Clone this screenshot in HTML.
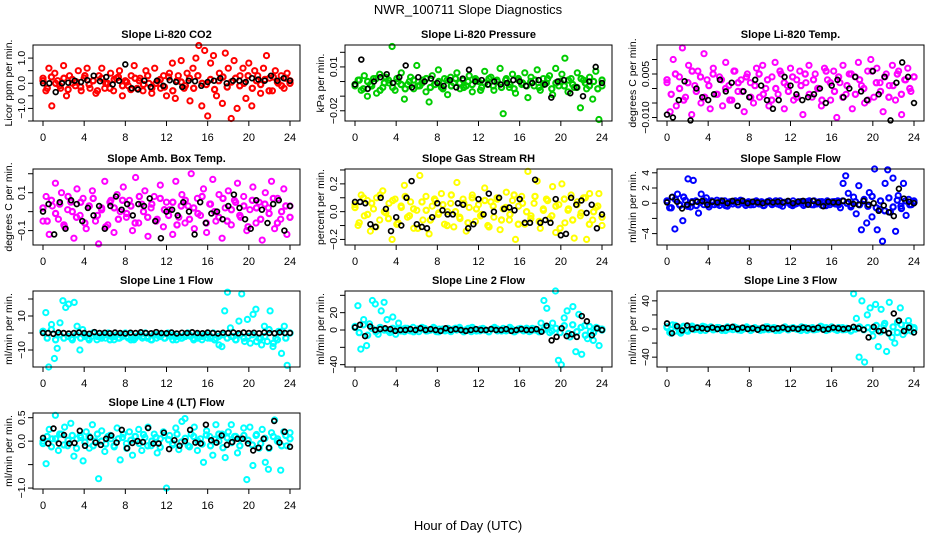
<!DOCTYPE html>
<html><head><meta charset="utf-8"><style>
html,body{margin:0;padding:0;background:#fff;}
svg{display:block;font-family:"Liberation Sans",sans-serif;}
</style></head><body>
<svg id="chart" width="936" height="540" viewBox="0 0 936 540" xmlns="http://www.w3.org/2000/svg">
<rect width="936" height="540" fill="#fff"/>
<text x="468" y="14" text-anchor="middle" font-size="13">NWR_100711  Slope Diagnostics</text>
<text x="468" y="530" text-anchor="middle" font-size="13">Hour of Day (UTC)</text>
</svg>
<script>
const xTicks = [0,4,8,12,16,20,24];
const titles = ["Slope Li-820 CO2","Slope Li-820 Pressure","Slope Li-820 Temp.","Slope Amb. Box Temp.","Slope Gas Stream RH","Slope Sample Flow","Slope Line 1 Flow","Slope Line 2 Flow","Slope Line 3 Flow","Slope Line 4 (LT) Flow"];
const yTitles = ["Licor ppm per min.","kPa per min.","degrees C per min.","degrees C per min.","percent per min.","ml/min per min.","ml/min per min.","ml/min per min.","ml/min per min.","ml/min per min."];
const yTickVals = [[-1.5,-1,-0.5,0,0.5,1],[-0.02,-0.01,0,0.01,0.02],[-0.01,-0.005,0,0.005,0.01],[-0.1,0,0.1,0.2],[-0.2,-0.1,0,0.1,0.2,0.3],[-4,-2,0,2,4],[-10,0,10,20],[-40,-20,0,20,40],[-40,-20,0,20,40],[-1,-0.5,0,0.5]];
const yTickLabels = [["","−1.0","","0.0","","1.0"],["−0.02","","","0.01",""],["−0.010","","","0.005",""],["−0.1","","0.1",""],["−0.2","","0.0","","0.2",""],["−4","","0","2","4"],["−10","","10",""],["−40","","0","20",""],["−40","","0","","40"],["−1.0","","0.0","0.5"]];
const colors = ["#ff0000","#00cd00","#ff00ff","#ff00ff","#ffff00","#0000ff","#00ffff","#00ffff","#00ffff","#00ffff"];

const co2Color = [0.2,-0.3,0.6,-0.9,0.4,0.1,-0.2,0.7,-0.5,0.3,0.0,-0.1,0.5,-0.3,0.2,0.6,-0.2,0.1,-0.4,0.3,0.6,-0.2,0.0,0.4,-0.3,0.2,0.5,-0.5,0.1,-0.1,0.3,0.7,-0.2,0.2,-0.3,0.5,0.0,-0.4,0.6,0.1,-0.2,0.3,-0.5,0.4,0.8,-0.6,0.3,0.9,-0.2,0.4,-0.7,0.6,1.0,1.5,-0.9,1.3,-1.3,0.8,1.1,-0.5,0.4,-0.8,1.2,0.6,-1.4,0.9,-1.0,0.3,0.6,-0.6,0.8,-0.9,0.5,0.3,-0.4,0.6,1.1,0.2,-0.3,0.5,0.0,0.3,-0.2,0.4,0.1];
const co2Core = [0.1,-0.2,0.25,0.0,-0.1,0.2,-0.25,0.15,0.05,-0.15,0.3,-0.05,0.1,-0.3,0.2,0.0,-0.2,0.15,0.25,-0.1,0.05,-0.25,0.2,0.1,-0.05,0.3,-0.2,0.0,0.15,-0.15,0.25,-0.3,0.1,0.05,-0.1,0.2,-0.2,0.3,0.0,-0.05,0.15,-0.25,0.1,0.25,-0.15,0.05,0.2,-0.1,0.0,0.3,-0.2,0.1,-0.05,0.15,-0.3,0.25,0.05,-0.1,0.2,0.0];
const co2Black = [0,0.0,-0.35,0.0,0.02,0.1,0.05,0.12,0.3,0.08,0.25,-0.05,0.1,0.75,-0.2,-0.25,0.1,-0.15,0.1,-0.1,0.12,0.05,-0.15,0.1,0.08,-0.1,0.05,0.1,0.2,0.0,0.1,0.1,0.05,0.2,0.15,0.1,0.3,0.1,0.2,0.1];
const presColor = [-0.003,0.001,-0.006,0.004,-0.010,-0.002,0.002,-0.008,0.005,-0.004,0.003,-0.001,0.024,-0.006,0.000,0.006,-0.012,-0.002,0.003,-0.005,0.011,-0.003,0.001,-0.007,-0.014,0.004,-0.002,0.008,-0.004,0.002,-0.009,0.003,-0.001,0.006,-0.005,0.001,-0.003,0.004,-0.007,0.002,0.000,-0.004,0.007,-0.002,0.003,-0.006,0.001,0.009,-0.022,0.002,-0.004,0.005,-0.008,0.001,-0.002,0.006,-0.011,0.003,-0.003,0.008,-0.006,0.002,-0.001,0.004,-0.009,0.009,-0.003,0.005,0.016,-0.007,0.002,-0.004,0.006,-0.018,0.001,-0.005,0.003,-0.012,0.007,-0.026,-0.003];
const presCore = [-0.002,0.001,-0.005,0.000,-0.003,0.002,-0.006,-0.001,0.001,-0.004,0.002,-0.002,-0.005,0.000,0.001,-0.003,-0.001,0.002,-0.004,-0.002,0.000,-0.005,0.001,-0.003,0.002,-0.001,-0.004,0.000,-0.002,0.001,-0.006,-0.001,0.002,-0.003,0.000,-0.004,0.001,-0.002,-0.005,0.002,-0.001,-0.003,0.000,0.001,-0.004,-0.002,0.002,-0.005,-0.001,0.000,-0.003,0.001,-0.002,-0.004,0.002,-0.001,-0.003,0.000,-0.005,0.001];
const presBlack = [-0.002,0.015,-0.005,0.0,0.003,0.005,-0.001,0.003,0.011,-0.004,0.003,0.0,0.002,-0.001,-0.003,0.001,-0.004,0.002,0.008,0.0,0.001,-0.002,0.0,-0.002,-0.001,0.001,0.0,-0.003,-0.001,0.001,-0.002,-0.011,0.0,0.001,-0.008,-0.004,-0.010,0.0,0.010,-0.001];
const tempColor = [0.002,-0.008,0.010,-0.006,0.004,0.014,-0.003,0.008,-0.009,0.001,0.006,-0.005,0.012,0.003,-0.007,0.007,-0.002,0.004,-0.006,0.009,0.001,-0.004,0.006,-0.001,0.003,-0.008,0.005,0.002,-0.005,0.007,-0.003,0.008,0.000,-0.006,0.004,0.009,-0.002,0.005,-0.007,0.001,0.007,-0.004,0.003,0.006,-0.009,0.002,0.008,-0.003,0.005,0.000,-0.006,0.007,0.003,-0.004,0.006,-0.010,0.002,0.008,-0.002,0.005,-0.007,0.004,0.009,0.001,-0.005,0.006,0.010,-0.003,0.007,0.002,-0.008,0.005,0.001,0.008,-0.004,0.006,-0.009,0.003,0.007,-0.001,0.004];
const tempCore = [0.003,-0.002,0.005,0.000,-0.004,0.002,0.006,-0.001,0.004,-0.003,0.001,0.005,-0.002,0.003,0.000,-0.004,0.006,0.002,-0.001,0.004,-0.003,0.001,0.005,-0.002,0.003,-0.004,0.000,0.006,0.002,-0.001,0.004,-0.003,0.001,0.005,-0.002,0.003,0.000,-0.004,0.006,0.002,-0.001,0.004,-0.003,0.001,0.005,-0.002,0.003,0.000,-0.004,0.006,0.002,-0.001,0.004,-0.003,0.001,0.005,-0.002,0.003,0.000,0.004];
const tempBlack = [-0.009,-0.010,-0.004,0.0025,-0.011,0.000,-0.003,-0.004,-0.002,0.003,-0.001,0.002,-0.006,-0.001,-0.003,0.003,0.001,-0.004,-0.007,-0.004,0.004,0.001,-0.002,-0.004,-0.003,-0.002,0.000,-0.005,0.001,0.003,-0.003,0.000,0.004,-0.001,-0.004,0.006,-0.002,0.004,-0.011,0.002,0.009,0.004,-0.005];
const ambColor = [-0.05,0.08,-0.12,0.03,0.15,-0.04,0.10,-0.08,0.01,0.05,-0.14,0.12,-0.02,0.07,-0.09,0.03,0.11,-0.05,-0.17,0.02,0.16,-0.07,0.06,-0.11,0.09,0.00,0.13,-0.03,0.06,-0.10,0.18,-0.06,0.04,0.11,-0.13,0.02,0.08,-0.04,0.14,-0.08,0.05,0.01,-0.12,0.16,-0.03,0.09,-0.06,0.03,0.20,-0.09,0.07,-0.02,0.12,-0.11,0.04,0.17,-0.05,0.09,-0.14,0.02,0.11,-0.07,0.06,0.15,-0.03,0.08,-0.10,0.01,0.13,-0.06,0.05,-0.15,0.10,0.02,0.16,-0.09,0.07,-0.04,0.12,-0.12,0.03];
const ambCore = [0.02,-0.05,0.06,-0.01,0.04,-0.07,0.08,0.00,-0.03,0.05,-0.06,0.03,0.07,-0.02,0.01,-0.08,0.05,0.02,-0.04,0.06,-0.01,0.03,-0.06,0.08,0.00,-0.03,0.04,-0.05,0.07,0.01,-0.02,0.05,-0.07,0.03,0.06,-0.04,0.02,-0.01,0.08,-0.06,0.04,0.00,-0.03,0.07,-0.05,0.01,0.05,-0.02,0.03,-0.08,0.06,0.02,-0.04,0.04,-0.01,0.07,-0.06,0.00,0.03,-0.03];
const ambBlack = [0.00,0.04,-0.12,0.05,-0.09,0.06,0.04,-0.05,0.02,-0.02,0.03,-0.09,0.03,0.08,0.01,0.04,-0.02,0.04,0.03,0.07,-0.05,-0.14,0.0,0.01,-0.02,0.05,0.00,-0.12,0.05,-0.06,-0.01,0.00,-0.04,0.03,0.09,0.02,-0.04,-0.09,0.06,0.01,-0.06,0.04,0.06,-0.10,0.03];
const rhColor = [0.05,-0.10,0.12,-0.03,0.08,-0.14,0.02,0.10,-0.06,0.15,-0.01,0.06,-0.20,0.09,-0.08,0.03,0.19,-0.04,0.07,-0.12,0.01,0.26,-0.06,0.11,-0.16,0.04,0.08,-0.02,0.13,-0.09,0.00,0.06,-0.11,0.21,-0.05,0.09,-0.14,0.03,0.12,-0.07,0.05,-0.02,0.17,-0.10,0.07,-0.04,0.10,-0.13,0.02,0.14,-0.06,0.08,-0.20,0.04,0.11,-0.09,0.29,-0.03,0.06,0.22,-0.12,0.02,0.09,-0.05,0.18,-0.15,0.05,0.20,-0.08,0.01,0.12,-0.19,0.07,-0.03,0.10,-0.20,0.13,-0.06,0.03,0.13,-0.10];
const rhCore = [0.03,-0.08,0.10,-0.02,0.06,-0.11,0.12,0.00,-0.05,0.08,-0.09,0.04,0.11,-0.03,0.02,-0.12,0.07,0.01,-0.06,0.09,-0.01,0.05,-0.10,0.12,0.00,-0.04,0.06,-0.08,0.10,0.02,-0.03,0.08,-0.11,0.04,0.09,-0.06,0.03,-0.02,0.12,-0.09,0.06,0.00,-0.05,0.11,-0.07,0.01,0.08,-0.03,0.04,-0.12,0.09,0.02,-0.06,0.05,-0.01,0.10,-0.09,0.00,0.04,-0.04];
const rhBlack = [0.07,0.07,0.06,-0.09,-0.11,0.10,0.02,-0.14,-0.04,-0.10,0.10,0.22,-0.09,-0.11,-0.12,-0.04,0.06,0.01,-0.02,-0.02,0.06,0.05,-0.12,-0.09,0.09,-0.02,0.13,0.00,0.10,0.02,0.03,0.01,0.09,-0.08,-0.08,0.23,-0.08,-0.06,-0.08,0.09,-0.17,-0.16,0.10,0.05,0.08,-0.01,0.05,-0.12,-0.02];
const sampleColor = [0.2,-0.6,0.8,-3.4,1.2,-0.3,-2.3,0.4,3.2,-0.5,3.0,0.3,-1.3,1.2,-0.2,0.7,-0.5,0.3,-0.2,0.4,-0.3,0.1,0.3,-0.4,0.2,-0.1,0.3,-0.2,0.4,0.0,-0.3,0.2,0.1,-0.2,0.3,-0.1,0.2,-0.3,0.1,0.3,-0.2,0.2,-0.1,0.3,-0.4,0.1,0.2,-0.2,0.3,-0.1,0.2,0.0,-0.3,0.2,0.1,-0.2,0.3,-0.1,0.2,-0.3,0.1,0.3,-0.2,0.2,-0.1,0.3,-0.6,2.6,3.6,1.3,-0.5,0.8,-1.4,2.3,-3.5,0.5,-2.6,1.4,-1.8,4.5,-3.5,-0.8,-5.0,2.6,4.4,-1.2,3.3,-3.7,1.0,-0.4,2.6,-1.6,0.5,-0.2,0.3];
const sampleCore = [0.3,-0.6,0.5,-0.2,0.8,-0.4,0.2,-0.3,0.1,0.3,-0.2,0.2,-0.1,0.3,-0.3,0.1,0.2,-0.2,0.3,0.0,-0.2,0.2,0.1,-0.3,0.2,-0.1,0.3,-0.2,0.1,0.2,-0.3,0.0,0.2,-0.1,0.3,-0.2,0.1,0.2,-0.3,0.1,0.2,-0.2,0.3,0.0,-0.3,0.2,-0.2,0.3,-0.4,0.9,-0.6,0.3,-1.0,0.7,-0.5,0.4,-0.7,0.3,-0.2,0.1];
const sampleBlack = [0.1,0.8,0.2,-0.7,-0.2,0.1,0.2,0.3,-0.2,0.2,0.1,0.3,0.0,0.3,0.1,0.3,0.0,0.2,0.1,0.0,0.2,0.1,0.2,0.1,0.3,0.0,0.2,0.3,-0.2,0.3,0.1,-0.4,0.2,0.1,0.1,0.3,0.2,-0.1,-0.2,0.3,-0.2,0.0,-1.0,-0.3,-1.2,-1.7,1.9,0.6,0.2,0.0];
const line1Color = [1,12,-20,5,-15,-9,6,19,15,17,-3,18,4,-10,2,-1,-3,-2,0,-4,-2,-1,-3,0,-2,-4,-1,-3,-2,0,-3,-1,-4,-2,-1,-3,0,-2,-4,-1,-3,-2,-1,-3,0,-2,-1,-4,-2,-3,-1,0,-2,-3,-1,-2,-4,-1,-3,-2,0,-3,-7,-8,13,24,3,-2,-4,7,23,-5,8,-6,11,14,-3,-7,4,-5,13,-8,-3,1,-12,4,-19,0];
const line1Core = [1,-3,2,-4,-1,-3,-2,-4,-1,-3,-2,-4,0,-2,-3,-1,-4,-2,-3,-1,-2,-4,-3,-1,-2,-3,-4,-1,-2,-3,-1,-4,-2,-3,-2,-1,-4,-3,-2,-1,-3,-4,-2,-1,-3,-2,-4,-1,-3,-2,-1,-5,-3,-2,2,-6,-4,1,-3,0];
const line1Black = [0,0,-0.5,0.3,0,-0.3,0,0.3,0,-0.4,0.5,0,0.2,-0.2,0.3,0,-0.3,0.2,0,0.4,0,-0.2,0.5,0,-0.2,0.3,-0.3,0.2,0,0.4,0,-0.2,0.3,0,-0.3,0.2,0,0.3,-0.2,0.3,0,0.2,-0.2,0.3,0,-0.2,0.3,0,0];
const line2Color = [3,28,-22,12,-18,7,34,30,-5,22,32,12,-3,15,-5,8,1,-2,2,-1,3,0,-2,1,2,-1,0,3,-2,1,0,-1,2,-2,1,0,3,-1,0,2,-2,1,0,-1,2,0,-2,1,3,-1,0,2,-1,0,1,-2,0,2,-1,1,-2,2,0,-1,8,34,25,-3,8,45,-35,-40,14,22,-8,27,-25,18,-28,5,-10,-2,-12,3,-18,1];
const line2Core = [4,-3,6,-6,2,-2,3,0,-1,2,1,-1,2,0,-2,1,3,-1,0,2,-2,1,0,-1,2,1,-2,0,3,-1,1,0,-2,2,1,-1,0,3,-2,1,0,2,-1,1,-2,0,3,-1,2,-3,5,-4,6,-2,3,-6,4,-3,2,0];
const line2Black = [3,6,-7,4,0,1,2,1,-1,0,0,1,0,2,0,1,0,-1,2,0,1,0,-1,0,1,0,0,1,0,0,1,-1,0,1,0,0,1,-2,5,-12,-8,2,-7,-5,-8,16,10,-6,2,0];
const line3Color = [2,-5,6,-3,1,-6,4,-2,3,1,-1,2,0,4,-2,1,3,-1,0,2,-2,1,3,0,-1,2,1,-2,0,3,1,-1,2,0,-2,1,3,-1,0,2,1,-2,0,3,-1,1,2,0,-1,3,1,-2,0,2,-1,1,4,0,2,-1,3,0,-2,1,2,-1,0,-3,50,15,-40,40,-47,20,30,-10,35,-25,28,5,-32,38,-12,-20,10,30,-8,5,12,-3,2];
const line3Core = [3,-6,5,-4,2,-3,4,0,-2,3,1,-1,2,0,-2,1,3,-1,0,2,-2,1,0,-1,3,1,-2,0,2,-1,1,0,-2,2,1,-1,0,3,-2,1,0,2,-1,1,-2,0,3,-1,2,-1,5,-4,8,-6,3,-5,6,-3,4,0];
const line3Black = [8,-6,4,-2,5,0,2,1,0,2,0,1,2,3,0,2,0,1,-1,2,1,0,1,2,0,1,0,2,1,0,2,-1,0,2,1,0,1,3,1,-1,-12,3,-3,-2,-6,22,12,-3,2,-5];
const line4Color = [0.0,-0.48,0.25,0.05,0.55,-0.2,0.15,0.30,-0.1,0.38,-0.32,0.05,0.12,-0.42,0.2,-0.15,0.35,0.0,-0.8,0.22,-0.22,0.1,0.05,-0.1,0.28,-0.4,0.15,-0.05,0.2,-0.3,0.1,0.25,-0.2,0.08,0.3,-0.1,0.15,-0.25,0.05,0.2,-1.0,0.12,-0.05,0.28,-0.18,0.42,0.48,-0.1,0.15,0.3,-0.2,0.05,-0.45,0.22,0.1,-0.3,0.35,0.0,0.15,-0.35,0.2,0.35,0.1,-0.25,0.05,0.28,-0.82,0.3,-0.52,0.12,-0.15,0.25,-0.45,-0.6,0.18,0.45,0.05,-0.62,0.2,-0.1,0.18];
const line4Core = [-0.05,0.1,-0.12,0.05,0.15,-0.08,0.02,0.12,-0.15,0.08,-0.02,0.1,-0.1,0.15,0.0,-0.06,0.12,-0.12,0.05,0.08,-0.15,0.02,0.1,-0.05,0.14,-0.1,0.0,0.08,-0.13,0.12,0.03,-0.08,0.15,-0.02,0.06,-0.12,0.1,0.0,-0.06,0.13,-0.1,0.04,0.15,-0.14,0.07,-0.03,0.1,-0.1,0.12,0.02,-0.08,0.14,-0.05,0.06,-0.15,0.1,0.0,-0.1,0.12,0.05];
const line4Black = [0.07,-0.05,0.27,-0.05,0.13,-0.05,-0.04,0.22,-0.1,0.08,-0.03,-0.08,0.05,0.12,-0.03,0.24,-0.15,-0.04,0.0,-0.02,0.28,-0.05,-0.05,0.18,-0.17,0.02,-0.1,0.0,0.24,-0.03,-0.05,0.35,0.02,-0.03,0.12,-0.08,-0.02,0.05,0.05,-0.05,-0.2,-0.14,0.05,-0.14,0.43,-0.03,0.2,-0.12];

const colorSeries = [co2Color,presColor,tempColor,ambColor,rhColor,sampleColor,line1Color,line2Color,line3Color,line4Color];
const coreSeries = [co2Core,presCore,tempCore,ambCore,rhCore,sampleCore,line1Core,line2Core,line3Core,line4Core];
const blackSeries = [co2Black,presBlack,tempBlack,ambBlack,rhBlack,sampleBlack,line1Black,line2Black,line3Black,line4Black];
const yDomains = [[-1.5,1.52],[-0.027,0.025],[-0.0112,0.015],[-0.176,0.225],[-0.24,0.307],[-5.5,4.5],[-20,24.7],[-42.7,45],[-54,54],[-1.02,0.6]];

const NS = "http://www.w3.org/2000/svg";
const svg = document.getElementById('chart');
const colLeft = [33,345,657], rowTop = [45,169,291,413], boxW = 267, boxH = 76;
function mk(tag, attrs, parent){ const e=document.createElementNS(NS,tag); for(const k in attrs) e.setAttribute(k,attrs[k]); parent.appendChild(e); return e; }

for (let p=0;p<10;p++){
  const L = colLeft[p%3], T = rowTop[Math.floor(p/3)], R = L+boxW, B = T+boxH;
  const g = mk('g',{},svg);
  
  
  const xS = h => L+10 + h*(boxW-20)/24;
  const [d0,d1] = yDomains[p];
  const yS = v => B - (v-d0)/(d1-d0)*boxH;
  const drawPts = (arr, col, name, sw, r) => {
    const pg = mk('g',{fill:'none',stroke:col,'stroke-width':sw},g);
    
    
    arr.forEach((v,i)=>{
      const h = i*24/(arr.length-1);
      const c = mk('circle',{cx:xS(h).toFixed(1),cy:yS(v).toFixed(1),r:r},pg);
      
      
    });
  };
  drawPts(colorSeries[p], colors[p], 'series-points', 2.0, 2.6);
  drawPts(coreSeries[p], colors[p], 'series-core-points', 2.2, 2.6);
  drawPts(blackSeries[p], '#000', 'mean-points', 1.7, 2.4);
  const box = mk('rect',{x:L,y:T,width:boxW,height:boxH,fill:'none',stroke:'#000','stroke-width':1},g);
  
  
  const t = mk('text',{x:(L+R)/2,y:T-7,'text-anchor':'middle','font-size':11,'font-weight':'bold'},g);
  t.textContent = titles[p];
  
  
  mk('line',{x1:xS(0),x2:xS(24),y1:B,y2:B,stroke:'#000'},g);
  xTicks.forEach(h=>{
    mk('line',{x1:xS(h),x2:xS(h),y1:B,y2:B+5,stroke:'#000'},g);
    const tl = mk('text',{x:xS(h),y:B+20,'text-anchor':'middle','font-size':11},g);
    tl.textContent = h;
    
    
  });
  const tv = yTickVals[p];
  mk('line',{x1:L,x2:L,y1:yS(tv[0]),y2:yS(tv[tv.length-1]),stroke:'#000'},g);
  tv.forEach((v,i)=>{
    const y = yS(v);
    mk('line',{x1:L-5,x2:L,y1:y,y2:y,stroke:'#000'},g);
    const lab = yTickLabels[p][i];
    if (lab){
      const tl = mk('text',{x:L-8,y:y,'text-anchor':'middle','font-size':10.5,transform:`rotate(-90 ${L-8} ${y})`},g);
      tl.textContent = lab;
      
      
    }
  });
  const yc = (T+B)/2;
  const yt = mk('text',{x:L-21,y:yc,'text-anchor':'middle','font-size':10.5,transform:`rotate(-90 ${L-21} ${yc})`},g);
  yt.textContent = yTitles[p];
  
  
}
</script>
</body></html>
